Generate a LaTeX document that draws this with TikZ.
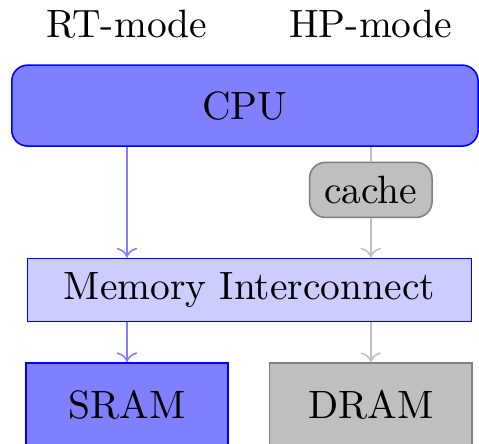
\documentclass[tikz,border=0pt]{standalone}
\usepackage[usenames,dvipsnames]{xcolor}
\usepackage{tikz}
\usetikzlibrary{arrows.meta}

\begin{document}
\begin{tikzpicture}
	\useasboundingbox (0,0) rectangle (4.263,-3.943);
	\begin{scope}[every node/.style = {anchor = base}]
		\node (RT) at (1.13,-0.33) {RT-mode};
		\node (HP) at (3.30,-0.33) {HP-mode};
	\end{scope}
	\begin{scope}[every node/.style = {draw, inner sep = 0pt},
		fastbox/.style = {fill = blue!50, draw = blue},
		slowbox/.style = {fill = gray!50, draw = gray}]
		\node [fastbox, rounded corners, minimum width = 4.15cm, minimum height = 0.72cm] (CPU) at (2.18,-0.94) {CPU};
		\node [slowbox, rounded corners, minimum width = 1.09cm, minimum height = 0.49cm] (cache) at (3.30,-1.69) {cache};
		\node [fill = blue!20, draw = blue, minimum width = 3.95cm, minimum height = 0.56cm] (MI) at (2.22,-2.58) {Memory Interconnect};
		\node [fastbox, minimum width = 1.80cm, minimum height = 0.75cm] (SRAM) at (1.13,-3.605) {SRAM};
		\node [slowbox, minimum width = 1.80cm, minimum height = 0.75cm] (DRAM) at (3.30,-3.605) {DRAM};
	\end{scope}
	\begin{scope}[every edge/.style={draw, thin}]
		\path [->, blue!50] (CPU.south -| SRAM.north) edge (MI.north -| SRAM.north);
		\path [->, blue!50] (MI.south -| SRAM.north) edge (SRAM.north);
		\path [-, gray!50] (CPU.south -| cache.north) edge (cache.north);
		\path [->, gray!50] (cache.south) edge (MI.north -| cache.south);
		\path [->, gray!50] (MI.south -| DRAM.north) edge (DRAM.north);
	\end{scope}
\end{tikzpicture}
\end{document}
